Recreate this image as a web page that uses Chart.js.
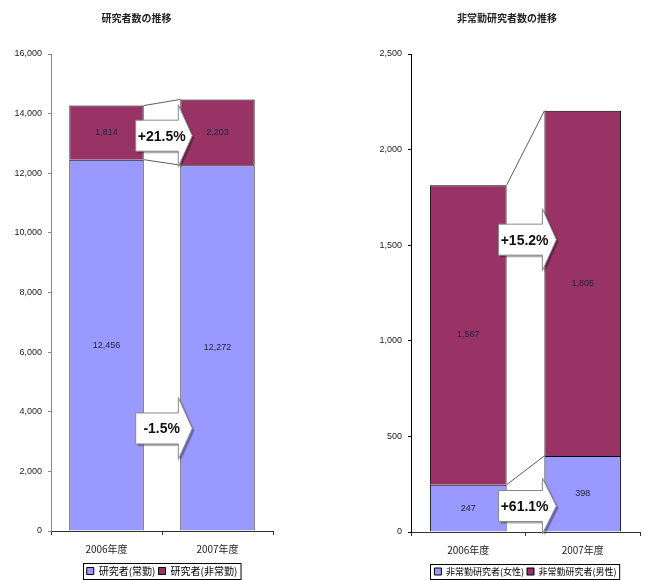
<!DOCTYPE html>
<html>
<head>
<meta charset="utf-8">
<script src="https://cdn.jsdelivr.net/npm/chart.js@4/dist/chart.umd.min.js"></script>
<style>
body{margin:0;background:#fff;width:646px;height:580px;overflow:hidden;position:relative}
.box{position:absolute;top:0;height:586px}
</style>
</head>
<body>
<div class="box" style="left:0;width:290px"><canvas id="leftChart"></canvas></div>
<div class="box" style="left:374px;width:272px"><canvas id="rightChart"></canvas></div>
<script>
var categories=['2006年度','2007年度']
// 研究者数
var regular=[12456,12272]
var nonRegular=[1814,2203]
// 非常勤研究者数
var female=[247,398]
var male=[1567,1805]
var leftTicks=[0,2000,4000,6000,8000,10000,12000,14000,16000]
var rightTicks=[0,500,1000,1500,2000,2500]
var leftChanges=['+21.5%','-1.5%']
var rightChanges=['+15.2%','+61.1%']

var BLUE='#9999FF', MAROON='#993366'
var NARROW="'Liberation Sans Narrow','Liberation Sans',Arial,sans-serif"
var JP="'Noto Sans CJK JP','Liberation Sans',sans-serif"

function fmt(v){return v.toLocaleString('en-US')}

// 棒の中の数値
var valueLabels={
	id:'valueLabels',
	afterDatasetsDraw:function(chart){
		var ctx=chart.ctx
		ctx.save()
		ctx.font='9px '+NARROW
		ctx.fillStyle='#222244'
		ctx.textAlign='center'
		ctx.textBaseline='middle'
		chart.data.datasets.forEach(function(ds,i){
			chart.getDatasetMeta(i).data.forEach(function(el,j){
				ctx.fillText(fmt(ds.data[j]),el.x,(el.y+el.base)/2)
			})
		})
		ctx.restore()
	}
}

// 棒の間の連結線と矢印
var arrows={
	id:'arrows',
	afterDatasetsDraw:function(chart,args,opts){
		var ctx=chart.ctx
		var y=chart.scales.y
		ctx.save()
		ctx.strokeStyle='#333'
		ctx.lineWidth=0.8
		chart.data.datasets.forEach(function(ds,i){
			var m=chart.getDatasetMeta(i).data
			ctx.beginPath()
			ctx.moveTo(m[0].x+m[0].width/2,m[0].y)
			ctx.lineTo(m[1].x-m[1].width/2,m[1].y)
			ctx.stroke()
		})
		var b=chart.getDatasetMeta(0).data
		var right0=b[0].x+b[0].width/2, left1=b[1].x-b[1].width/2
		;(opts.items||[]).forEach(function(a){
			var cy=y.getPixelForValue(a.value)
			var bl=right0-8, bx=left1-2, tx=left1+12
			var bh=31/2, hh=(a.head||62)/2
			ctx.beginPath()
			ctx.moveTo(bl,cy-bh)
			ctx.lineTo(bx,cy-bh)
			ctx.lineTo(bx,cy-hh)
			ctx.lineTo(tx,cy)
			ctx.lineTo(bx,cy+hh)
			ctx.lineTo(bx,cy+bh)
			ctx.lineTo(bl,cy+bh)
			ctx.closePath()
			ctx.save()
			ctx.shadowColor='rgba(0,0,0,0.35)'
			ctx.shadowOffsetX=2
			ctx.shadowOffsetY=2
			ctx.shadowBlur=1
			ctx.fillStyle='#fff'
			ctx.fill()
			ctx.restore()
			ctx.strokeStyle='#888'
			ctx.lineWidth=1
			ctx.stroke()
			ctx.font='bold 14px '+NARROW
			ctx.fillStyle='#111'
			ctx.textAlign='center'
			ctx.textBaseline='middle'
			ctx.fillText(a.text,bl+26,cy+1)
		})
		ctx.restore()
	}
}

// 凡例の枠
var legendFrame={
	id:'legendFrame',
	afterDraw:function(chart){
		var hb=chart.legend.legendHitBoxes
		if(!hb||!hb.length)return
		var l=Math.min.apply(null,hb.map(function(h){return h.left}))
		var r=Math.max.apply(null,hb.map(function(h){return h.left+h.width}))
		var t=hb[0].top, h=hb[0].height
		var ctx=chart.ctx
		ctx.save()
		ctx.strokeStyle='#000'
		ctx.lineWidth=1
		ctx.strokeRect(Math.round(l)-3.5,Math.round(t)-2.5,r-l+7,h+6)
		ctx.restore()
	}
}

function makeChart(id,title,ds,ticks,yw,padRight,axisColor,legendSize,items){
	var max=ticks[ticks.length-1]
	return new Chart(document.getElementById(id),{
		type:'bar',
		data:{
			labels:categories,
			datasets:ds.map(function(d){
				return {label:d.label,data:d.data,backgroundColor:d.color,borderColor:'#000',borderWidth:1,borderSkipped:'start',categoryPercentage:1,barPercentage:0.67}
			})
		},
		options:{
			responsive:true,
			maintainAspectRatio:false,
			animation:false,
			layout:{padding:{right:padRight,bottom:0}},
			plugins:{
				title:{display:true,text:title,color:'#222',font:{size:10,weight:'bold',family:JP},padding:{top:12,bottom:30}},
				legend:{position:'bottom',fullSize:false,labels:{boxWidth:7,boxHeight:7,color:'#000',font:{size:legendSize,family:JP},padding:3}},
				tooltip:{enabled:false},
				arrows:{items:items}
			},
			scales:{
				x:{stacked:true,
					grid:{drawOnChartArea:false,drawTicks:true,tickLength:4,color:'#333'},
					border:{color:'#333'},
					ticks:{color:'#222',font:{size:10,family:JP},padding:8}},
				y:{stacked:true,min:0,max:max,
					afterBuildTicks:function(s){s.ticks=ticks.map(function(v){return {value:v}})},
					afterFit:function(s){s.width=yw},
					grid:{drawOnChartArea:false,drawTicks:true,tickLength:3,color:axisColor},
					border:{color:axisColor},
					ticks:{color:'#222',font:{size:9,family:NARROW},padding:6,callback:function(v){return fmt(v)}}}
			}
		},
		plugins:[valueLabels,arrows,legendFrame]
	})
}

makeChart('leftChart','研究者数の推移',
	[{label:'研究者(常勤)',data:regular,color:BLUE},{label:'研究者(非常勤)',data:nonRegular,color:MAROON}],
	leftTicks,51,17,'#888',10,
	[{text:leftChanges[0],value:13260},{text:leftChanges[1],value:3440}])

makeChart('rightChart','非常勤研究者数の推移',
	[{label:'非常勤研究者(女性)',data:female,color:BLUE},{label:'非常勤研究者(男性)',data:male,color:MAROON}],
	rightTicks,37,6,'#000',9,
	[{text:rightChanges[0],value:1529},{text:rightChanges[1],value:136,head:56}])
</script>
</body>
</html>
